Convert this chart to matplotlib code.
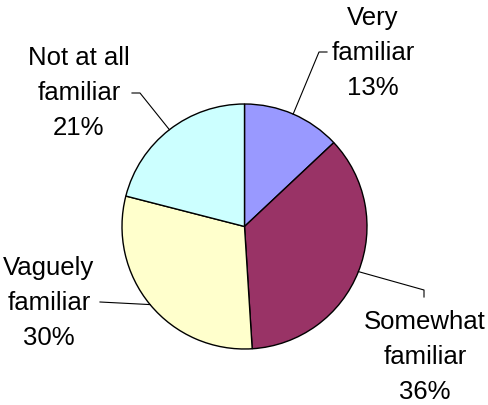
import numpy as np
import matplotlib
matplotlib.use("Agg")
import matplotlib.pyplot as plt

# familiarity survey shares, clockwise from 12 o'clock
labels = ["Very\nfamiliar", "Somewhat\nfamiliar", "Vaguely\nfamiliar", "Not at all\nfamiliar"]
shares = [13, 36, 30, 21]
colors = ["#9999FF", "#993366", "#FFFFCC", "#CCFFFF"]

W, H = 488, 405
fig = plt.figure(figsize=(W / 100, H / 100), dpi=100)
ax = fig.add_axes([0, 0, 1, 1])

cx, cy, r = 244.5, H - 226.5, 122.5
wedges, _ = ax.pie(shares, colors=colors, startangle=90, counterclock=False,
                   center=(cx, cy), radius=r, frame=True,
                   wedgeprops=dict(edgecolor="black", linewidth=1.0))
ax.set_xlim(0, W)
ax.set_ylim(0, H)
ax.set_aspect("equal")
ax.axis("off")

# label centres and leader line elbows (pixel coords, y from top)
label_pos = [(373, 53), (425, 357), (49, 303), (79, 93)]
elbows = [[(319, 52), (327, 52)],
          [(424, 290), (424, 297)],
          [(100, 302)],
          [(140, 93), (132, 93)]]

for w, lab, val, (lx, ly), elb in zip(wedges, labels, shares, label_pos, elbows):
    mid = np.deg2rad((w.theta1 + w.theta2) / 2)
    pts = [(cx + r * np.cos(mid), cy + r * np.sin(mid))]
    pts += [(x, H - y) for x, y in elb]
    xs, ys = zip(*pts)
    ax.plot(xs, ys, color="black", linewidth=0.8)
    ax.text(lx, H - ly, f"{lab}\n{val}%", ha="center", va="center",
            fontsize=18.5, family="Liberation Sans", linespacing=1.57)

fig.savefig("out.png", dpi=100)
